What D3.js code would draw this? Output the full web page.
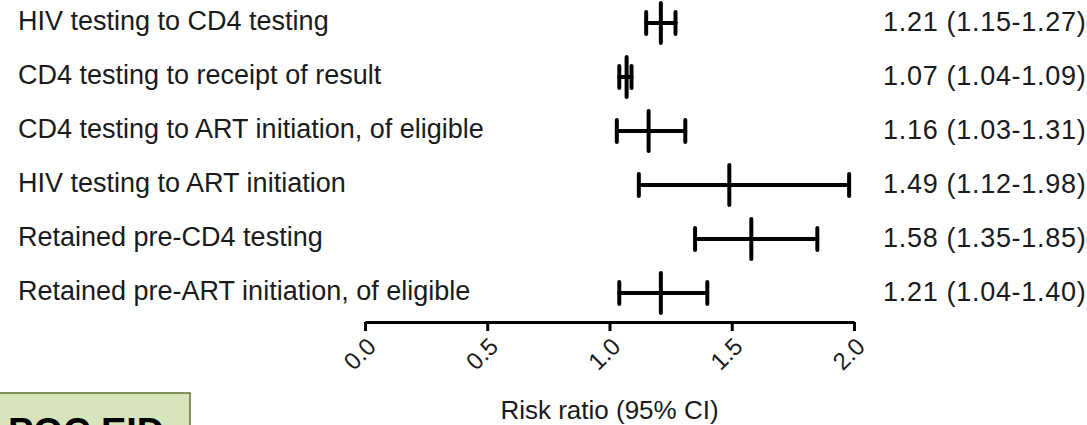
<!DOCTYPE html>
<html>
<head>
<meta charset="utf-8">
<script src="https://cdn.jsdelivr.net/npm/d3@7"></script>
<style>
  body { margin: 0; background: #fff; }
  svg { display: block; font-family: "Liberation Sans", Arial, sans-serif; }
</style>
</head>
<body>
<div id="chart"></div>
<script>
var svgWidth = 1087;
var svgHeight = 425;

// data
var outcomes = [
  "HIV testing to CD4 testing",
  "CD4 testing to receipt of result",
  "CD4 testing to ART initiation, of eligible",
  "HIV testing to ART initiation",
  "Retained pre-CD4 testing",
  "Retained pre-ART initiation, of eligible"
];
var riskRatio = [1.21, 1.07, 1.16, 1.49, 1.58, 1.21];
var ciLower = [1.15, 1.04, 1.03, 1.12, 1.35, 1.04];
var ciUpper = [1.27, 1.09, 1.31, 1.98, 1.85, 1.40];
var xTicks = [0, 0.5, 1.0, 1.5, 2.0];

var rows = outcomes.map(function(d, i) {
  return { name: d, rr: riskRatio[i], lo: ciLower[i], hi: ciUpper[i] };
});

var svg = d3.select("#chart")
  .append("svg")
  .attr("width", svgWidth)
  .attr("height", svgHeight);

var xScale = d3.scaleLinear().domain([0, 2]).range([365, 854]);
var yScale = d3.scalePoint().domain(outcomes).range([23, 293]);

// row labels on the left
svg.selectAll(".rowlabel")
  .data(rows)
  .enter()
  .append("text")
  .attr("class", "rowlabel")
  .attr("x", 18)
  .attr("y", d => yScale(d.name) + 7)
  .style("font-size", "27px")
  .style("fill", "#1a1a1a")
  .text(d => d.name);

// estimates on the right
svg.selectAll(".valuelabel")
  .data(rows)
  .enter()
  .append("text")
  .attr("class", "valuelabel")
  .attr("x", 883)
  .attr("y", d => yScale(d.name) + 8)
  .style("font-size", "27px")
  .style("letter-spacing", "0.7px")
  .style("fill", "#1a1a1a")
  .text(d => d.rr.toFixed(2) + " (" + d.lo.toFixed(2) + "-" + d.hi.toFixed(2) + ")");

// error bars
var bars = svg.selectAll(".ci")
  .data(rows)
  .enter()
  .append("g")
  .attr("class", "ci")
  .attr("transform", d => `translate(0,${yScale(d.name)})`)
  .style("stroke", "#000")
  .style("stroke-width", 4)
  .style("stroke-linecap", "round");

bars.append("line")
  .attr("x1", d => xScale(d.lo))
  .attr("x2", d => xScale(d.hi));
bars.append("line")
  .attr("x1", d => xScale(d.lo)).attr("x2", d => xScale(d.lo))
  .attr("y1", -11).attr("y2", 11);
bars.append("line")
  .attr("x1", d => xScale(d.hi)).attr("x2", d => xScale(d.hi))
  .attr("y1", -11).attr("y2", 11);
bars.append("line")
  .attr("x1", d => xScale(d.rr)).attr("x2", d => xScale(d.rr))
  .attr("y1", -20).attr("y2", 20);

// x axis
var xAxis = svg.append("g")
  .attr("transform", "translate(0,322)")
  .call(d3.axisBottom(xScale)
    .tickValues(xTicks)
    .tickFormat(d3.format(".1f"))
    .tickSize(9)
    .tickSizeOuter(0));

xAxis.select(".domain").style("stroke", "#000").style("stroke-width", 3);
xAxis.selectAll(".tick line").style("stroke", "#000").style("stroke-width", 3);
xAxis.selectAll(".tick text")
  .attr("x", null)
  .attr("y", null)
  .attr("dy", "0.35em")
  .attr("text-anchor", "end")
  .attr("transform", "translate(6,20) rotate(-45)")
  .style("font-family", "\"Liberation Sans\", Arial, sans-serif")
  .style("font-size", "24px")
  .style("fill", "#1a1a1a");

svg.append("text")
  .attr("x", xScale(1))
  .attr("y", 419)
  .attr("text-anchor", "middle")
  .style("font-size", "26px")
  .style("fill", "#1a1a1a")
  .text("Risk ratio (95% CI)");

// POC EID tag in the corner
svg.append("rect")
  .attr("x", -2)
  .attr("y", 393)
  .attr("width", 192)
  .attr("height", 60)
  .style("fill", "#d8e4bc")
  .style("stroke", "#5f7530")
  .style("stroke-width", 1.5);

svg.append("text")
  .attr("x", 8)
  .attr("y", 445)
  .style("font-size", "38px")
  .style("font-weight", "bold")
  .style("fill", "#000")
  .text("POC EID");
</script>
</body>
</html>
